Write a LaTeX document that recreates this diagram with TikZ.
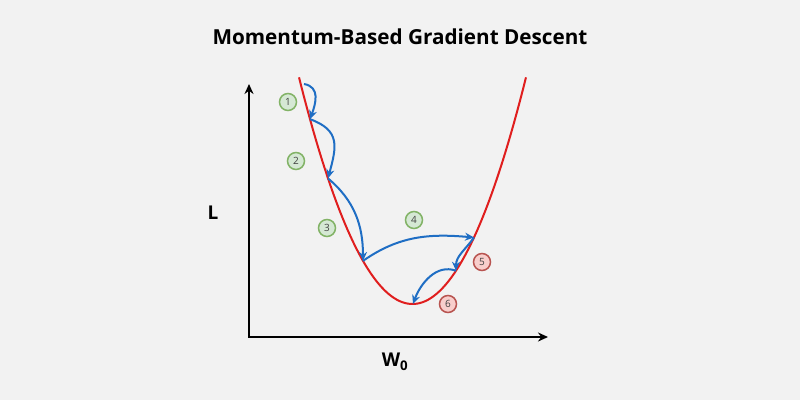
\documentclass[tikz,border=0pt]{standalone}
\usepackage{fontspec}
\setmainfont{Open Sans}
\usetikzlibrary{arrows.meta}
\definecolor{bgc}{HTML}{F2F2F2}
\definecolor{stepblue}{HTML}{1F6EC4}
\definecolor{lossred}{HTML}{E01E1E}
\definecolor{okfill}{HTML}{D5E8D4}
\definecolor{okline}{HTML}{82B366}
\definecolor{badfill}{HTML}{F8CECC}
\definecolor{badline}{HTML}{B85450}

\begin{document}
\begin{tikzpicture}[x=1pt,y=1pt,
    declare function={loss(\x)=96+0.0176*(\x-412.5)^2;},
    good/.style={circle,draw=okline,fill=okfill,line width=1.5pt,minimum size=17pt,inner sep=0pt,font=\fontsize{10}{10}\selectfont,text=black!75},
    bad/.style={good,draw=badline,fill=badfill},
    hop/.style={draw=stepblue,line width=2pt,-{Stealth[length=9pt,width=8pt]}},
    axis/.style={line width=2pt,{Stealth[length=10pt,width=9pt]}-{Stealth[length=10pt,width=9pt]}}]
        \fill[bgc] (0,0) rectangle (800,400);

        \node (title) at (400,363) {\fontsize{20.7}{24}\selectfont\bfseries Momentum-Based Gradient Descent};

        \coordinate (ytop) at (249,316);
        \coordinate (o) at (249,63);
        \coordinate (xend) at (548,63);
        \draw[axis] (ytop) -- (o) -- (xend);
        \node (L) at (213,187) {\fontsize{19}{19}\selectfont\bfseries L};
        \node (W) at (395,38) {\fontsize{19}{19}\selectfont\bfseries W\textsubscript{0}};

        \draw[lossred,line width=2pt] plot[domain=299:526,samples=80] (\x,{loss(\x)});

        \coordinate (p0) at (304,316);
        \coordinate (p1) at (310,{loss(310)});
        \coordinate (p2) at (328,{loss(328)});
        \coordinate (p3) at (363,{loss(363)});
        \coordinate (p4) at (474,{loss(474)});
        \coordinate (p5) at (456,{loss(456)});
        \coordinate (p6) at (413,{loss(413)});
        \draw[hop] (p0) to[out=-10,in=70,looseness=1.2] (p1);
        \draw[hop] (p1) to[out=-20,in=75,looseness=1.35] (p2);
        \draw[hop] (p2) to[out=-40,in=90] (p3);
        \draw[hop] (p3) to[out=35,in=175] (p4);
        \draw[hop] (p4) to[out=235,in=90] (p5);
        \draw[hop] (p5) to[out=160,in=70] (p6);

        \node[good] (n1) at (288,298) {1};
        \node[good] (n2) at (296,239) {2};
        \node[good] (n3) at (327,172) {3};
        \node[good] (n4) at (414,180) {4};
        \node[bad] (n5) at (482,138) {5};
        \node[bad] (n6) at (448,96) {6};
    \end{tikzpicture}
\end{document}
